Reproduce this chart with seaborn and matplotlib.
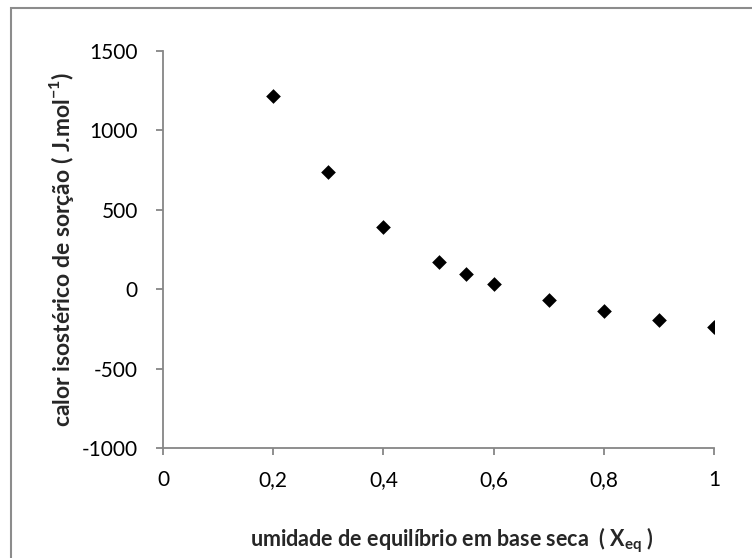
import matplotlib
matplotlib.use("Agg")
import matplotlib.pyplot as plt
from matplotlib.patches import Rectangle
from matplotlib.ticker import FuncFormatter
import pandas as pd
import seaborn as sns

# equilibrium moisture content (dry basis) and isosteric heat of sorption
umidade = [0.2, 0.3, 0.4, 0.5, 0.55, 0.6, 0.7, 0.8, 0.9, 1.0]
calor = [1215, 737, 390, 172, 94, 31, -68, -139, -195, -236]

y_ticks = [-1000, -500, 0, 500, 1000, 1500]
x_ticks = [0, 0.2, 0.4, 0.6, 0.8, 1.0]

df = pd.DataFrame({"umidade": umidade, "calor": calor})

sns.set_style("ticks")
plt.rcParams["font.family"] = ["Lato", "DejaVu Sans"]
plt.rcParams["mathtext.fontset"] = "custom"
plt.rcParams["mathtext.rm"] = "Lato"
plt.rcParams["mathtext.bf"] = "Lato:bold"

gray = "#868686"
fig = plt.figure(figsize=(7.52, 5.58), dpi=100)
ax = fig.add_axes([163 / 752, 1 - 448 / 558, (714 - 163) / 752, (448 - 51) / 558])

sns.scatterplot(data=df, x="umidade", y="calor", marker="D", color="black",
                s=56, linewidth=0, ax=ax, legend=False)

ax.set_xlim(0, 1)
ax.set_ylim(-1000, 1500)
ax.set_xticks(x_ticks)
ax.set_yticks(y_ticks)
ax.xaxis.set_major_formatter(FuncFormatter(lambda v, p: f"{v:g}".replace(".", ",")))
ax.yaxis.set_major_formatter(FuncFormatter(lambda v, p: f"{v:.0f}"))

for side in ("top", "right"):
    ax.spines[side].set_visible(False)
for side in ("left", "bottom"):
    ax.spines[side].set_color(gray)
    ax.spines[side].set_linewidth(1.3)
ax.tick_params(axis="both", direction="out", length=5, width=1.3, color=gray,
               labelsize=15, labelcolor="black")
ax.tick_params(axis="y", pad=13)
ax.tick_params(axis="x", pad=11)

ax.set_xlabel("umidade de equilíbrio em base seca  ( X$_{\\mathbf{eq}}$ )",
              fontsize=15.5, fontweight="bold", labelpad=25)
ax.xaxis.label.set_x(0.525)
ax.set_ylabel("calor isostérico de sorção ( J.mol$^{\\mathbf{-1}}$)",
              fontsize=16.5, fontweight="bold", labelpad=4)

# chart area border
fig.patches.append(Rectangle((11 / 752, -0.1), 2.0, 1 - 8 / 558 + 0.1,
                             transform=fig.transFigure, fill=False,
                             edgecolor="#8c8c8c", linewidth=1.5))

fig.savefig("out.png", dpi=100)
